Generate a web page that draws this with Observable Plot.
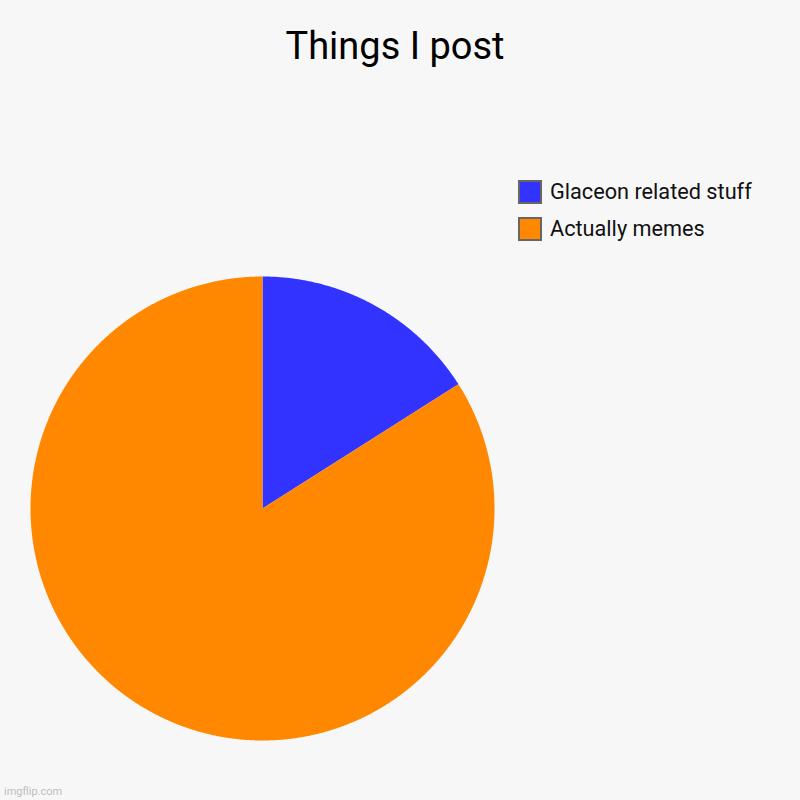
<!DOCTYPE html>
<html>
<head>
<meta charset="utf-8">
<script src="https://cdn.jsdelivr.net/npm/d3@7"></script>
<script src="https://cdn.jsdelivr.net/npm/@observablehq/plot@0.6"></script>
<style>
  body { margin: 0; background: #f7f7f7; font-family: Roboto, sans-serif; }
  #wrap { position: relative; width: 800px; height: 800px; background: #f7f7f7; overflow: hidden; }
  #chart { position: absolute; left: 0; top: 0; }
  #title { position: absolute; left: 0; width: 790px; top: 27px; text-align: center; font-size: 38px; line-height: 38px; color: #000; }
  .leg { position: absolute; left: 518px; height: 24px; display: flex; align-items: center; }
  .sw { width: 20px; height: 20px; border: 2px solid #666; box-sizing: content-box; }
  .lt { position: absolute; left: 32px; font-size: 21.7px; line-height: 22px; white-space: nowrap; color: #111; }
  #wm { position: absolute; left: 4px; top: 786px; font-size: 11px; line-height: 11px; color: #bdbdbd; }
</style>
</head>
<body>
<div id="wrap">
  <div id="chart"></div>
  <div id="title"></div>
  <div id="legend"></div>
  <div id="wm">imgflip.com</div>
</div>
<script>
const title = "Things I post";
const labels = ["Glaceon related stuff", "Actually memes"];
const values = [16, 84];
const colors = ["#3333ff", "#ff8800"];

document.getElementById("title").textContent = title;

// Build pie slice polygons from data via d3.pie
const pie = d3.pie().sort(null).value(d => d.value);
const arcs = pie(labels.map((label, i) => ({label, value: values[i]})));
const features = arcs.map(a => {
  const pts = [[0, 0]];
  const n = Math.max(2, Math.ceil((a.endAngle - a.startAngle) / (Math.PI / 720)));
  for (let k = 0; k <= n; k++) {
    const t = a.startAngle + (a.endAngle - a.startAngle) * k / n;
    pts.push([Math.sin(t), -Math.cos(t)]);
  }
  pts.push([0, 0]);
  return {type: "Feature", properties: {label: a.data.label}, geometry: {type: "Polygon", coordinates: [pts]}};
});

const chart = Plot.plot({
  width: 800,
  height: 800,
  marginTop: 276,
  marginBottom: 60,
  marginLeft: 30,
  marginRight: 306,
  style: {background: "transparent"},
  projection: {
    type: "identity",
    domain: {type: "Polygon", coordinates: [[[-1, -1], [1, -1], [1, 1], [-1, 1], [-1, -1]]]}
  },
  color: {domain: labels, range: colors},
  marks: [
    Plot.geo(features, {fill: d => d.properties.label, stroke: "none"})
  ]
});
document.getElementById("chart").appendChild(chart);

// Legend
const legend = document.getElementById("legend");
labels.forEach((label, i) => {
  const row = document.createElement("div");
  row.className = "leg";
  row.style.top = (180 + i * 37) + "px";
  const sw = document.createElement("div");
  sw.className = "sw";
  sw.style.background = colors[i];
  const t = document.createElement("div");
  t.className = "lt";
  t.style.top = "1px";
  t.textContent = label;
  row.appendChild(sw);
  row.appendChild(t);
  legend.appendChild(row);
});
</script>
</body>
</html>
